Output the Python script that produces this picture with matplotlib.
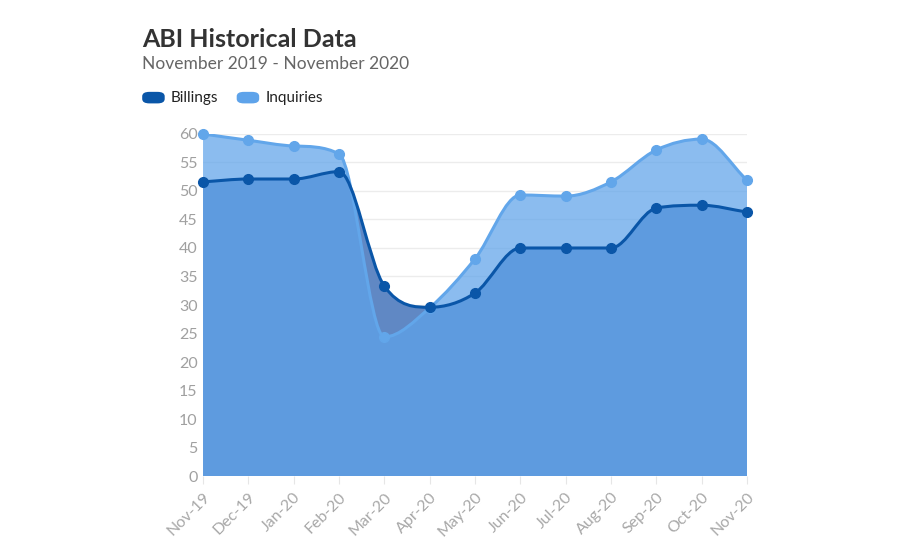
import numpy as np
import matplotlib
matplotlib.use("Agg")
import matplotlib.pyplot as plt
from matplotlib.path import Path
from matplotlib.patches import PathPatch, FancyBboxPatch

months = ['Nov-19', 'Dec-19', 'Jan-20', 'Feb-20', 'Mar-20', 'Apr-20', 'May-20',
          'Jun-20', 'Jul-20', 'Aug-20', 'Sep-20', 'Oct-20', 'Nov-20']
billings = [51.6, 52.1, 52.1, 53.4, 33.3, 29.6, 32.1, 40.0, 40.0, 40.0, 47.0, 47.5, 46.3]
inquiries = [60.0, 58.9, 57.9, 56.5, 24.4, 29.5, 38.1, 49.3, 49.1, 51.6, 57.2, 59.1, 51.9]

plt.rcParams['font.family'] = ['Lato', 'DejaVu Sans']


def spline_verts(xs, ys):
    # monotone cubic (Fritsch-Carlson), written as bezier segments
    xs = np.asarray(xs, float)
    ys = np.asarray(ys, float)
    n = len(xs)
    dk = np.diff(ys) / np.diff(xs)
    mk = np.zeros(n)
    mk[0] = dk[0]
    mk[-1] = dk[-1]
    for i in range(1, n - 1):
        mk[i] = 0 if dk[i - 1] * dk[i] <= 0 else (dk[i - 1] + dk[i]) / 2
    for i in range(n - 1):
        if dk[i] == 0:
            mk[i] = mk[i + 1] = 0
            continue
        a = mk[i] / dk[i]
        b = mk[i + 1] / dk[i]
        s = a * a + b * b
        if s > 9:
            t = 3 / np.sqrt(s)
            mk[i] = t * a * dk[i]
            mk[i + 1] = t * b * dk[i]
    verts = [(xs[0], ys[0])]
    codes = [Path.MOVETO]
    for i in range(n - 1):
        h = (xs[i + 1] - xs[i]) / 3
        verts += [(xs[i] + h, ys[i] + h * mk[i]),
                  (xs[i + 1] - h, ys[i + 1] - h * mk[i + 1]),
                  (xs[i + 1], ys[i + 1])]
        codes += [Path.CURVE4] * 3
    return verts, codes


def area_path(xs, ys):
    verts, codes = spline_verts(xs, ys)
    verts = [(xs[0], 0)] + verts + [(xs[-1], 0), (xs[0], 0)]
    codes = [Path.MOVETO, Path.LINETO] + codes[1:] + [Path.LINETO, Path.CLOSEPOLY]
    return Path(verts, codes)


fig = plt.figure(figsize=(9, 5.5), dpi=100)
ax = fig.add_axes([0.2256, 0.1345, 0.6044, 0.6219])
x = np.arange(len(months))

ax.set_xlim(0, 12)
ax.set_ylim(0, 60)
ax.set_yticks(range(0, 61, 5))
ax.yaxis.grid(True, color='#ececec', linewidth=1)
ax.set_axisbelow(True)
for s in ax.spines.values():
    s.set_visible(False)

ax.add_patch(PathPatch(area_path(x, billings), facecolor='#6088c4', edgecolor='none', zorder=2))
ax.add_patch(PathPatch(area_path(x, inquiries), facecolor='#5ea3ea', alpha=0.72,
                       edgecolor='none', zorder=3))

bv, bc = spline_verts(x, billings)
iv, ic = spline_verts(x, inquiries)
ax.add_patch(PathPatch(Path(iv, ic), facecolor='none', edgecolor='#62a6ea', lw=2.2, zorder=4))
ax.add_patch(PathPatch(Path(bv, bc), facecolor='none', edgecolor='#0a56a8', lw=2.2, zorder=5))
ax.plot(x, inquiries, 'o', color='#62a6ea', ms=7, zorder=6, clip_on=False)
ax.plot(x, billings, 'o', color='#0a56a8', ms=7, zorder=7, clip_on=False)

ax.set_xticks(x)
ax.set_xticklabels(months, rotation=45, ha='right', rotation_mode='anchor')
ax.tick_params(axis='x', length=6, color='#e6e6e6', labelcolor='#a8a8a8', labelsize=11.5, pad=4)
ax.tick_params(axis='y', length=0, labelcolor='#a0a0a0', labelsize=11.5, pad=4)
ax.axhline(0, color='#e6e6e6', lw=1, zorder=1)

fig.text(0.158, 0.928, 'ABI Historical Data', fontsize=18, fontweight='bold',
         color='#333333', va='center')
fig.text(0.158, 0.884, 'November 2019 - November 2020', fontsize=12.5,
         color='#666666', va='center')

# legend
fig.patches.append(FancyBboxPatch((0.158, 0.812), 0.025, 0.021,
                                  boxstyle='round,pad=0,rounding_size=0.008',
                                  transform=fig.transFigure, facecolor='#0a56a8',
                                  edgecolor='none'))
fig.text(0.19, 0.822, 'Billings', fontsize=11, color='#222222', va='center')
fig.patches.append(FancyBboxPatch((0.263, 0.812), 0.025, 0.021,
                                  boxstyle='round,pad=0,rounding_size=0.008',
                                  transform=fig.transFigure, facecolor='#5ea3ea',
                                  edgecolor='none'))
fig.text(0.295, 0.822, 'Inquiries', fontsize=11, color='#222222', va='center')

fig.savefig('out.png', dpi=100)
